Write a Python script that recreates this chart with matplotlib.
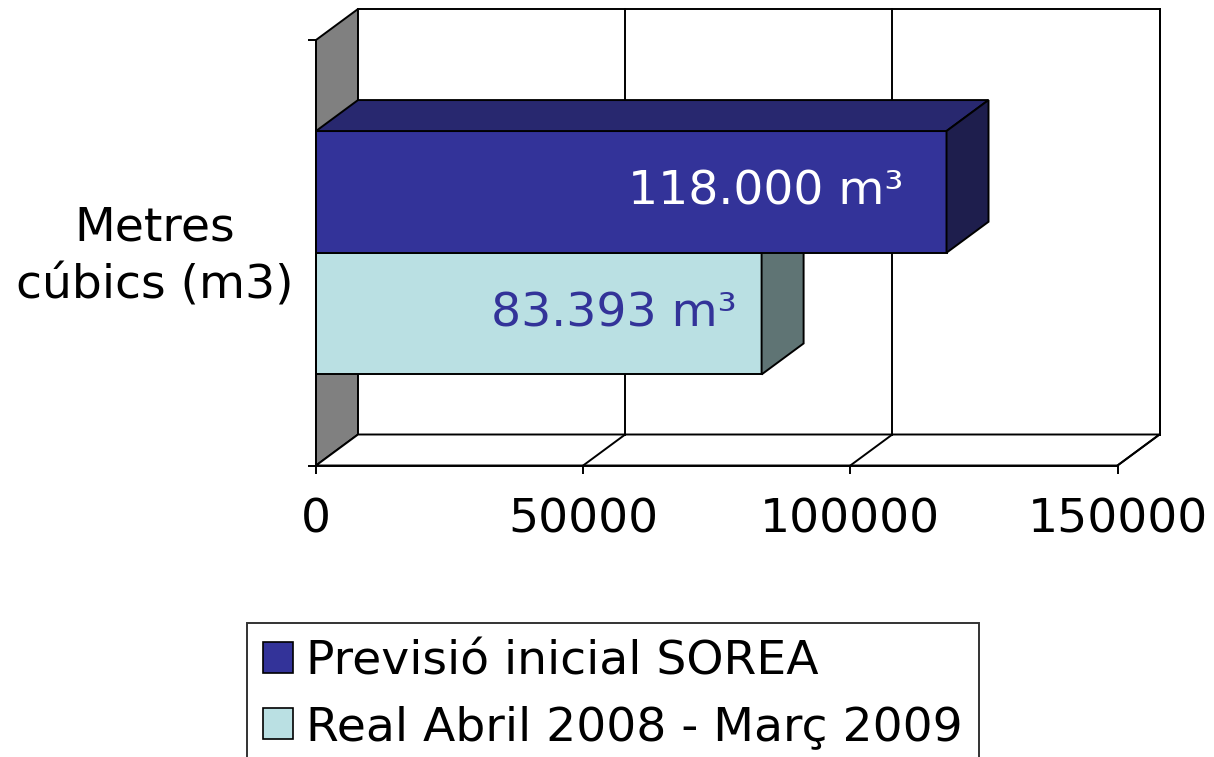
import matplotlib
matplotlib.use("Agg")
import matplotlib.pyplot as plt
from matplotlib.patches import Polygon, Rectangle, Patch
from matplotlib.transforms import blended_transform_factory

# ---- data ----
category = "Metres\ncúbics (m3)"
series_names = ["Previsió inicial SOREA", "Real Abril 2008 - Març 2009"]
values = [118000, 83393]
value_labels = ["118.000 m³", "83.393 m³"]
x_ticks = [0, 50000, 100000, 150000]
x_tick_labels = ["0", "50000", "100000", "150000"]

# ---- style ----
front_colors = ["#333399", "#BAE0E3"]
top_colors = ["#28286F", "#8FADB0"]
side_colors = ["#1E1E4D", "#5F7474"]
label_colors = ["white", "#333399"]
label_offsets_pt = [31, 18]
wall_color = "#808080"
FS = 34
plt.rcParams['font.family'] = ['DejaVu Sans']

W, H = 1214, 757
fig = plt.figure(figsize=(W / 100, H / 100), dpi=100)
# front plane in pixels
px_l, px_r, px_t, px_b = 316, 1117.5, 40, 465.5
ax = fig.add_axes([px_l / W, 1 - px_b / H, (px_r - px_l) / W, (px_b - px_t) / H])
xmax = x_ticks[-1]
ax.set_xlim(0, xmax)
ax.set_ylim(-0.5, 0.5)
ax.patch.set_visible(False)

# depth offsets (pixels -> data)
dx = 42 * xmax / (px_r - px_l)
dy = 31 / (px_b - px_t)
lw = 1.4
ec = "black"

# left wall
ax.add_patch(Polygon([(0, -0.5), (dx, -0.5 + dy), (dx, 0.5 + dy), (0, 0.5)],
                     closed=True, facecolor=wall_color, edgecolor=ec, lw=lw,
                     clip_on=False, zorder=1))
# back wall
ax.add_patch(Rectangle((dx, -0.5 + dy), xmax, 1.0, facecolor="white",
                       edgecolor=ec, lw=lw, clip_on=False, zorder=1))
# floor
ax.add_patch(Polygon([(0, -0.5), (xmax, -0.5), (xmax + dx, -0.5 + dy), (dx, -0.5 + dy)],
                     closed=True, facecolor="white", edgecolor=ec, lw=lw,
                     clip_on=False, zorder=1))
# gridlines on back wall and floor
for t in x_ticks[1:]:
    ax.plot([t + dx, t + dx], [-0.5 + dy, 0.5 + dy], color=ec, lw=lw,
            clip_on=False, zorder=1.5)
    ax.plot([t, t + dx], [-0.5, -0.5 + dy], color=ec, lw=lw,
            clip_on=False, zorder=1.5)

# bars
n = len(values)
h = 0.286
for i in reversed(range(n)):
    v = values[i]
    b = (n / 2 - 1 - i) * h
    ax.add_patch(Rectangle((0, b), v, h, facecolor=front_colors[i],
                           edgecolor=ec, lw=lw, clip_on=False, zorder=3))
    ax.add_patch(Polygon([(0, b + h), (v, b + h), (v + dx, b + h + dy), (dx, b + h + dy)],
                         closed=True, facecolor=top_colors[i], edgecolor=ec, lw=lw,
                         clip_on=False, zorder=3))
    ax.add_patch(Polygon([(v, b), (v + dx, b + dy), (v + dx, b + h + dy), (v, b + h)],
                         closed=True, facecolor=side_colors[i], edgecolor=ec, lw=lw,
                         clip_on=False, zorder=3))
    ax.annotate(value_labels[i], xy=(v, b + h / 2), xytext=(-label_offsets_pt[i], 0),
                textcoords="offset points", ha="right", va="center",
                fontsize=FS, color=label_colors[i], zorder=5)

# axes
for s in ["top", "right"]:
    ax.spines[s].set_visible(False)
for s in ["left", "bottom"]:
    ax.spines[s].set_linewidth(lw)
    ax.spines[s].set_zorder(4)
ax.set_xticks(x_ticks)
ax.set_xticklabels(x_tick_labels, fontsize=FS)
ax.set_yticks([-0.5, 0.5])
ax.set_yticklabels([])
ax.tick_params(axis="both", direction="out", length=6, width=lw, color=ec)
ax.tick_params(axis="x", pad=17)

# category label
trans = blended_transform_factory(fig.transFigure, ax.transData)
ax.text(155 / W, -0.01, category, transform=trans, ha="center", va="center",
        multialignment="center", fontsize=FS, linespacing=1.38)

# legend
handles = [Patch(facecolor=front_colors[i], edgecolor=ec, lw=1.2) for i in range(n)]
leg = fig.legend(handles, series_names, loc="upper left",
                 bbox_to_anchor=(247 / W, 1 - 623 / H), fontsize=FS,
                 handlelength=0.64, handleheight=0.64, handletextpad=0.28,
                 labelspacing=0.44, borderpad=0.34, borderaxespad=0,
                 fancybox=False, frameon=True)
leg.get_frame().set_edgecolor(ec)
leg.get_frame().set_linewidth(lw)

fig.savefig("out.png", dpi=100)
